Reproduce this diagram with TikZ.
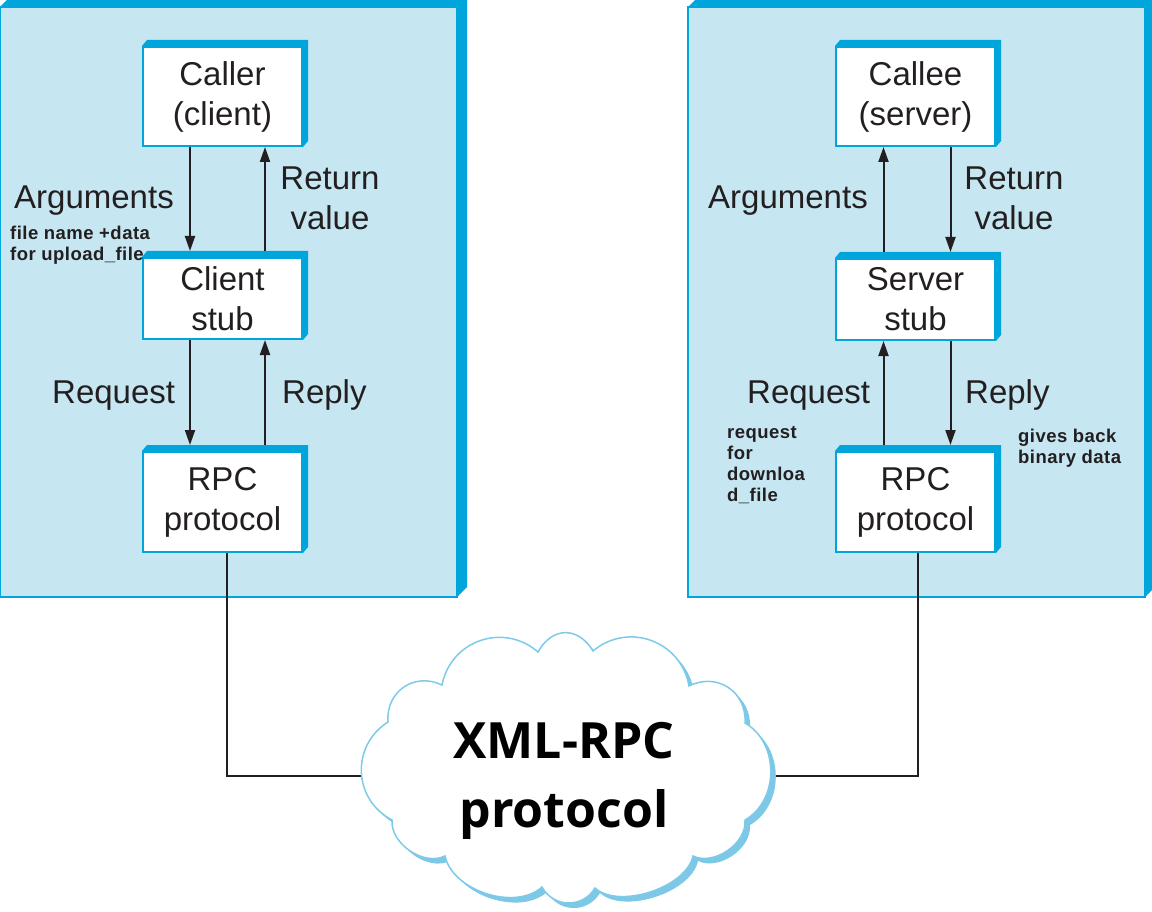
\documentclass[tikz,border=0pt]{standalone}
\usepackage{fontspec}
\setmainfont{Liberation Sans}
\newfontfamily\smallfont{Liberation Sans}[LetterSpace=2.5]
\newfontfamily\cloudfont{Open Sans}
\usetikzlibrary{arrows.meta,shadows}
\pgfdeclarelayer{back}
\pgfsetlayers{back,main}
\definecolor{panelfill}{HTML}{C6E6F2}
\definecolor{edgeblue}{HTML}{00A6DB}
\definecolor{cloudline}{HTML}{7DCBE9}
\definecolor{cloudshade}{HTML}{7CC8E6}
\definecolor{ink}{HTML}{231F20}
\newcommand\boxbevel[3]{%
  \fill[edgeblue] (#1.north west) -- ++(#2pt,#3pt)
    -- ([shift={(#2pt,#3pt)}]#1.north east)
    -- ([shift={(#2pt,#3pt)}]#1.south east)
    -- (#1.south east) -- (#1.north east) -- cycle;}
\begin{document}
\begin{tikzpicture}[x=1pt,y=-1pt,
  box/.style={rectangle, draw=edgeblue, line width=2pt, fill=white,
    minimum width=159pt, inner sep=0pt, align=center,
    font=\fontsize{33}{40}\selectfont, text=ink},
  lbl/.style={inner sep=0pt, align=center, font=\fontsize{33}{40}\selectfont, text=ink},
  note/.style={inner sep=0pt, align=left,
    font=\smallfont\bfseries\fontsize{18.5}{21}\selectfont, text=ink},
  arr/.style={draw=ink, line width=2pt, -{Triangle[length=15pt,width=10pt]}},
  link/.style={draw=ink, line width=1.8pt},
  puff/.style={bend left=60, looseness=#1},
  puff/.default=1.1]
\useasboundingbox (0,0) rectangle (1152,912);

% panels
\begin{pgfonlayer}{back}
  \fill[panelfill] (0,7) rectangle (457,597);
  \draw[edgeblue, line width=2pt] (0,7) rectangle (457,597);
  \fill[edgeblue] (0,7) -- (10,-3) -- (467,-3) -- (467,587) -- (457,597) -- (457,7) -- cycle;
  \fill[panelfill] (688,7) rectangle (1145,597);
  \draw[edgeblue, line width=2pt] (688,7) rectangle (1145,597);
  \fill[edgeblue] (688,7) -- (698,-3) -- (1155,-3) -- (1155,587) -- (1145,597) -- (1145,7) -- cycle;
\end{pgfonlayer}

% boxes
\node[box, minimum height=99pt] (callerL) at (222.5,96.5) {Caller\\(client)};
\node[box, minimum height=81pt] (stubL) at (222.5,298.5) {Client\\stub};
\node[box, minimum height=100pt] (rpcL) at (222.5,502) {RPC\\protocol};
\node[box, minimum height=99pt] (calleeR) at (915.5,96.5) {Callee\\(server)};
\node[box, minimum height=81pt] (stubR) at (915.5,299.5) {Server\\stub};
\node[box, minimum height=100pt] (rpcR) at (915.5,502) {RPC\\protocol};
\boxbevel{callerL}{5}{6}
\boxbevel{stubL}{5}{6}
\boxbevel{rpcL}{5}{6}
\boxbevel{calleeR}{5}{6}
\boxbevel{stubR}{5}{6}
\boxbevel{rpcR}{5}{6}

% arrows left
\draw[arr] ([xshift=-32.5pt]callerL.south) -- ([xshift=-32.5pt,yshift=6pt]stubL.north);
\draw[arr] ([xshift=42.5pt,yshift=6pt]stubL.north) -- ([xshift=42.5pt]callerL.south);
\draw[arr] ([xshift=-32.5pt]stubL.south) -- ([xshift=-32.5pt,yshift=6pt]rpcL.north);
\draw[arr] ([xshift=42.5pt,yshift=6pt]rpcL.north) -- ([xshift=42.5pt]stubL.south);
% arrows right
\draw[arr] ([xshift=-32pt,yshift=6pt]stubR.north) -- ([xshift=-32pt]calleeR.south);
\draw[arr] ([xshift=35pt]calleeR.south) -- ([xshift=35pt,yshift=6pt]stubR.north);
\draw[arr] ([xshift=-32pt,yshift=6pt]rpcR.north) -- ([xshift=-32pt]stubR.south);
\draw[arr] ([xshift=35pt]stubR.south) -- ([xshift=35pt,yshift=6pt]rpcR.north);

% labels left
\node[lbl, anchor=base west] (argL) at (14,209) {Arguments};
\node[note, anchor=north west] (argnote) at (10,226) {\vphantom{f}file name +data\\for upload\_file};
\node[lbl, anchor=north] (retL) at (330,165.4) {\vphantom{l}Return\\value};
\node[lbl, anchor=base west] (reqL) at (52,403) {Request};
\node[lbl, anchor=base west] (repL) at (282,403) {Reply};
% labels right
\node[lbl, anchor=base west] (argR) at (708,209) {Arguments};
\node[lbl, anchor=north] (retR) at (1014,165.4) {\vphantom{l}Return\\value};
\node[lbl, anchor=base west] (reqR) at (747,403) {Request};
\node[lbl, anchor=base west] (repR) at (965,403) {Reply};
\node[note, anchor=north west] (reqnote) at (727,425) {\vphantom{f}request\\for\\downloa\\d\_file};
\node[note, anchor=north west] (repnote) at (1018,429) {gives back\\binary data};

% cloud
\filldraw[draw=cloudline, line width=1.5pt, fill=white,
  general shadow={fill=cloudshade, shadow xshift=5pt, shadow yshift=-5pt}]
  (538,652) to[puff=1.35] (593,651) to[puff=1.15] (689,686) to[puff=1.2] (745,723)
  to[puff=1.05] (745,820) to[puff=0.95] (693,856) to[puff=0.8] (595,888)
  to[puff=1.15] (542,887) to[puff=0.9] (445,856) to[puff=0.95] (392,820)
  to[puff=1.15] (388,722) to[puff=1.2] (442,685) to[puff=1.15] (538,652) -- cycle;
\coordinate (cloudc) at (566,776);
\node[inner sep=0pt, anchor=north, align=center, text=black,
  font=\cloudfont\bfseries\fontsize{50}{69}\selectfont] (cloudtext) at (564,722) {XML-RPC\\protocol};

% connectors
\begin{pgfonlayer}{back}
  \draw[link] ([xshift=4.5pt]rpcL.south) |- (cloudc);
  \draw[link] ([xshift=2.5pt]rpcR.south) |- (cloudc);
\end{pgfonlayer}
\end{tikzpicture}
\end{document}
